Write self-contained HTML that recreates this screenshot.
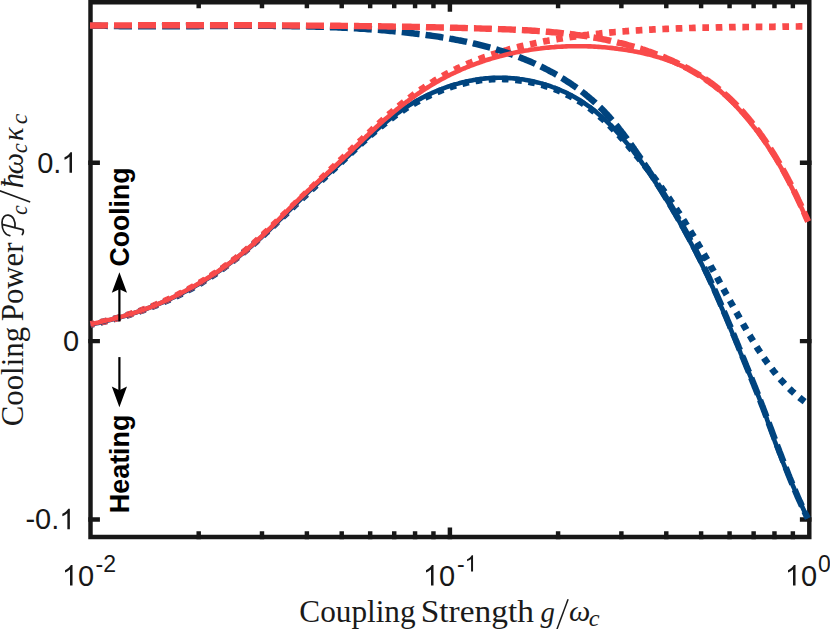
<!DOCTYPE html>
<html lang="en">
<head>
<meta charset="utf-8">
<title>Cooling power vs coupling strength</title>
<style>
  html, body { margin: 0; padding: 0; background: #ffffff; }
  body { width: 830px; height: 629px; overflow: hidden; }
  svg { display: block; }
  .tick { font-family: "Liberation Sans", sans-serif; fill: #171717; }
  .lab { font-family: "Liberation Serif", serif; fill: #1a1a1a; }
  .labi { font-family: "Liberation Serif", serif; font-style: italic; fill: #1a1a1a; }
  .ann { font-family: "Liberation Sans", sans-serif; font-weight: bold; fill: #000; }
  .curve { fill: none; stroke-linejoin: round; stroke-linecap: butt; }
</style>
</head>
<body>
<svg width="830" height="629" viewBox="0 0 830 629">
  <rect x="0" y="0" width="830" height="629" fill="#ffffff"/>

  <!-- axes box and ticks -->
  <g fill="none" stroke="#171717" stroke-width="4.45" stroke-linecap="square" stroke-linejoin="miter">
    <path d="M90.5 2.3H809.3V537.0H90.5Z"/>
    <path d="M198.69 537.0V533.40M198.69 2.3V5.90M261.98 537.0V533.40M261.98 2.3V5.90M306.88 537.0V533.40M306.88 2.3V5.90M341.71 537.0V533.40M341.71 2.3V5.90M370.17 537.0V533.40M370.17 2.3V5.90M394.23 537.0V533.40M394.23 2.3V5.90M415.07 537.0V533.40M415.07 2.3V5.90M433.45 537.0V533.40M433.45 2.3V5.90M449.90 537.0V529.80M449.90 2.3V9.50M558.09 537.0V533.40M558.09 2.3V5.90M621.38 537.0V533.40M621.38 2.3V5.90M666.28 537.0V533.40M666.28 2.3V5.90M701.11 537.0V533.40M701.11 2.3V5.90M729.57 537.0V533.40M729.57 2.3V5.90M753.63 537.0V533.40M753.63 2.3V5.90M774.47 537.0V533.40M774.47 2.3V5.90M792.85 537.0V533.40M792.85 2.3V5.90M90.5 162.77H97.70M809.3 162.77H802.10M90.5 341.10H97.70M809.3 341.10H802.10M90.5 519.43H97.70M809.3 519.43H802.10"/>
  </g>

  <!-- curves: dotted, dashed, solid (blue then red) -->
  <g class="curve">
    <path d="M90.5 324.6L92.5 324.2L94.4 323.8L96.4 323.4L98.3 322.9L100.3 322.5L102.2 322.0L104.2 321.6L106.1 321.1L108.1 320.6L110.0 320.1L111.9 319.6L113.9 319.1L115.8 318.6L117.7 318.1L119.7 317.5L121.6 317.0L123.5 316.4L125.4 315.9L127.4 315.3L129.3 314.7L131.2 314.1L133.1 313.5L135.0 312.9L136.9 312.2L138.8 311.6L140.7 310.9L142.6 310.3L144.4 309.6L146.3 308.9L148.2 308.2L150.1 307.5L151.9 306.8L153.8 306.1L155.7 305.4L157.5 304.6L159.4 303.9L161.2 303.1L163.1 302.3L164.9 301.5L166.7 300.7L168.5 299.9L170.4 299.1L172.2 298.3L174.0 297.4L175.8 296.6L177.6 295.7L179.4 294.8L181.2 293.9L183.0 293.0L184.7 292.1L186.5 291.2L188.3 290.2L190.0 289.3L191.8 288.3L193.5 287.3L195.3 286.3L197.0 285.3L198.8 284.3L200.5 283.3L202.2 282.3L203.9 281.2L205.6 280.2L207.3 279.1L209.0 278.0L210.7 276.9L212.4 275.8L214.0 274.7L215.7 273.6L217.4 272.4L219.0 271.3L220.6 270.1L222.3 269.0L223.9 267.8L225.5 266.6L227.2 265.4L228.8 264.2L230.4 263.0L232.0 261.8L233.6 260.6L235.1 259.3L236.7 258.1L238.3 256.9L239.9 255.6L241.4 254.3L243.0 253.1L244.5 251.8L246.0 250.5L247.6 249.2L249.1 247.9L250.6 246.6L252.1 245.3L253.6 244.0L255.1 242.7L256.6 241.4L258.1 240.0L259.6 238.7L261.0 237.4L262.5 236.0L264.0 234.7L265.4 233.3L266.9 232.0L268.4 230.6L269.8 229.3L271.3 227.9L272.7 226.5L274.2 225.2L275.6 223.8L277.1 222.4L278.5 221.1L280.0 219.7L281.4 218.3L282.8 216.9L284.3 215.6L285.7 214.2L287.2 212.8L288.6 211.4L290.1 210.0L291.5 208.6L292.9 207.3L294.4 205.9L295.8 204.5L297.3 203.1L298.8 201.7L300.2 200.4L301.7 199.0L303.1 197.6L304.6 196.2L306.1 194.9L307.5 193.5L309.0 192.1L310.5 190.7L311.9 189.4L313.4 188.0L314.9 186.6L316.3 185.3L317.8 183.9L319.3 182.5L320.8 181.2L322.2 179.8L323.7 178.5L325.2 177.1L326.7 175.7L328.1 174.4L329.6 173.0L331.1 171.7L332.5 170.3L334.0 169.0L335.5 167.6L336.9 166.3L338.4 164.9L339.9 163.5L341.3 162.2L342.8 160.8L344.3 159.5L345.7 158.1L347.2 156.7L348.6 155.4L350.1 154.0L351.6 152.6L353.0 151.3L354.5 149.9L356.0 148.6L357.4 147.2L358.9 145.8L360.4 144.5L361.8 143.1L363.3 141.8L364.8 140.5L366.3 139.1L367.8 137.8L369.3 136.5L370.8 135.1L372.3 133.8L373.8 132.5L375.3 131.2L376.8 129.9L378.4 128.7L379.9 127.4L381.5 126.1L383.0 124.9L384.6 123.6L386.2 122.4L387.7 121.2L389.3 119.9L390.9 118.7L392.6 117.6L394.2 116.4L395.8 115.2L397.5 114.1L399.1 112.9L400.8 111.8L402.5 110.7L404.1 109.6L405.8 108.5L407.5 107.5L409.3 106.4L411.0 105.4L412.7 104.3L414.5 103.3L416.2 102.3L418.0 101.4L419.7 100.4L421.5 99.5L423.3 98.6L425.1 97.6L426.9 96.8L428.7 95.9L430.5 95.0L432.3 94.2L434.2 93.4L436.0 92.6L437.8 91.8L439.7 91.1L441.5 90.3L443.4 89.6L445.3 88.9L447.2 88.3L449.0 87.6L450.9 87.0L452.8 86.4L454.7 85.8L456.6 85.2L458.6 84.7L460.5 84.1L462.4 83.7L464.3 83.2L466.3 82.7L468.2 82.3L470.2 81.9L472.1 81.5L474.1 81.2L476.0 80.9L478.0 80.6L480.0 80.3L482.0 80.0L483.9 79.8L485.9 79.6L487.9 79.4L489.9 79.3L491.9 79.2L493.9 79.1L495.9 79.0L497.9 79.0L499.9 79.0L501.9 79.0L503.9 79.1L505.9 79.1L507.9 79.2L509.9 79.4L511.9 79.5L513.9 79.7L515.9 79.9L517.9 80.1L519.9 80.4L521.9 80.6L523.9 80.9L525.9 81.3L527.8 81.6L529.8 82.0L531.8 82.4L533.7 82.8L535.7 83.3L537.7 83.8L539.6 84.3L541.5 84.8L543.5 85.4L545.4 86.0L547.3 86.6L549.2 87.2L551.1 87.9L553.0 88.5L554.9 89.2L556.8 90.0L558.6 90.7L560.5 91.5L562.3 92.3L564.1 93.1L565.9 94.0L567.7 94.9L569.5 95.8L571.3 96.7L573.1 97.6L574.8 98.6L576.5 99.6L578.2 100.6L579.9 101.7L581.6 102.7L583.3 103.8L584.9 104.9L586.6 106.0L588.2 107.2L589.8 108.4L591.4 109.6L593.0 110.8L594.5 112.0L596.1 113.3L597.6 114.6L599.1 115.9L600.6 117.2L602.1 118.5L603.6 119.8L605.1 121.2L606.5 122.5L608.0 123.9L609.4 125.3L610.8 126.7L612.2 128.2L613.6 129.6L615.0 131.0L616.4 132.5L617.8 134.0L619.2 135.4L620.5 136.9L621.9 138.4L623.2 139.9L624.5 141.4L625.9 142.9L627.2 144.4L628.5 146.0L629.8 147.5L631.1 149.0L632.4 150.5L633.7 152.1L635.0 153.6L636.3 155.2L637.6 156.7L638.8 158.3L640.1 159.8L641.4 161.4L642.6 162.9L643.9 164.5L645.1 166.1L646.3 167.6L647.6 169.2L648.8 170.8L650.0 172.4L651.2 173.9L652.5 175.5L653.7 177.1L654.9 178.7L656.1 180.3L657.3 181.9L658.4 183.5L659.6 185.1L660.8 186.7L662.0 188.3L663.1 190.0L664.3 191.6L665.4 193.2L666.6 194.8L667.7 196.5L668.9 198.1L670.0 199.7L671.1 201.4L672.3 203.0L673.4 204.7L674.5 206.3L675.6 208.0L676.7 209.6L677.8 211.3L678.9 212.9L680.0 214.6L681.1 216.3L682.1 218.0L683.2 219.6L684.3 221.3L685.3 223.0L686.4 224.7L687.4 226.4L688.5 228.1L689.5 229.8L690.6 231.5L691.6 233.2L692.6 234.9L693.7 236.6L694.7 238.3L695.7 240.0L696.7 241.7L697.7 243.4L698.7 245.2L699.7 246.9L700.8 248.6L701.8 250.3L702.7 252.1L703.7 253.8L704.7 255.5L705.7 257.3L706.7 259.0L707.7 260.7L708.7 262.5L709.7 264.2L710.6 266.0L711.6 267.7L712.6 269.4L713.6 271.2L714.5 272.9L715.5 274.7L716.5 276.4L717.5 278.2L718.4 279.9L719.4 281.7L720.4 283.4L721.3 285.2L722.3 286.9L723.3 288.7L724.2 290.4L725.2 292.2L726.2 294.0L727.2 295.7L728.1 297.5L729.1 299.2L730.1 301.0L731.0 302.7L732.0 304.5L733.0 306.2L734.0 308.0L735.0 309.7L735.9 311.5L736.9 313.2L737.9 315.0L738.9 316.7L739.9 318.5L740.9 320.2L741.9 322.0L742.9 323.7L743.9 325.5L744.9 327.2L745.9 328.9L746.9 330.7L747.9 332.4L748.9 334.2L750.0 335.9L751.0 337.6L752.0 339.3L753.1 341.1L754.1 342.8L755.2 344.5L756.2 346.2L757.3 347.9L758.4 349.6L759.5 351.2L760.6 352.9L761.7 354.6L762.8 356.3L763.9 357.9L765.0 359.5L766.2 361.2L767.3 362.8L768.5 364.4L769.7 366.0L770.9 367.6L772.1 369.2L773.3 370.7L774.5 372.3L775.8 373.8L777.0 375.4L778.3 376.9L779.6 378.4L780.9 379.9L782.2 381.3L783.6 382.8L784.9 384.2L786.3 385.6L787.7 387.0L789.1 388.4L790.5 389.8L792.0 391.2L793.5 392.5L794.9 393.8L796.5 395.1L798.0 396.4L799.5 397.6L801.1 398.9L802.7 400.1L804.3 401.3L805.9 402.5L807.6 403.6" stroke="#00447F" stroke-width="6.67" stroke-dasharray="6.67 6.67" stroke-dashoffset="3.2"/>
    <path d="M90.5 324.3L92.5 323.9L94.4 323.5L96.4 323.1L98.4 322.7L100.3 322.3L102.3 321.8L104.3 321.4L106.2 320.9L108.2 320.4L110.1 319.9L112.1 319.4L114.0 318.9L115.9 318.4L117.9 317.9L119.8 317.3L121.7 316.8L123.6 316.2L125.6 315.6L127.5 315.0L129.4 314.4L131.3 313.8L133.2 313.2L135.1 312.5L137.0 311.9L138.9 311.2L140.8 310.6L142.6 309.9L144.5 309.2L146.4 308.5L148.3 307.8L150.1 307.0L152.0 306.3L153.8 305.6L155.7 304.8L157.5 304.0L159.4 303.3L161.2 302.5L163.1 301.7L164.9 300.9L166.7 300.0L168.5 299.2L170.3 298.4L172.2 297.5L174.0 296.6L175.8 295.8L177.5 294.9L179.3 294.0L181.1 293.1L182.9 292.2L184.7 291.2L186.4 290.3L188.2 289.4L189.9 288.4L191.7 287.4L193.4 286.5L195.2 285.5L196.9 284.5L198.6 283.5L200.4 282.4L202.1 281.4L203.8 280.4L205.5 279.3L207.2 278.3L208.9 277.2L210.6 276.1L212.2 275.0L213.9 273.9L215.6 272.8L217.2 271.7L218.9 270.6L220.5 269.5L222.2 268.3L223.8 267.2L225.4 266.0L227.1 264.8L228.7 263.6L230.3 262.4L231.9 261.2L233.5 260.0L235.1 258.8L236.7 257.6L238.2 256.3L239.8 255.1L241.4 253.8L242.9 252.5L244.4 251.3L246.0 250.0L247.5 248.7L249.0 247.4L250.6 246.1L252.1 244.7L253.6 243.4L255.1 242.1L256.6 240.7L258.0 239.4L259.5 238.0L261.0 236.6L262.5 235.3L263.9 233.9L265.4 232.5L266.9 231.1L268.3 229.7L269.8 228.3L271.2 227.0L272.7 225.6L274.1 224.2L275.5 222.8L277.0 221.3L278.4 219.9L279.8 218.5L281.3 217.1L282.7 215.7L284.1 214.3L285.6 212.9L287.0 211.5L288.4 210.1L289.9 208.7L291.3 207.3L292.7 205.9L294.2 204.5L295.6 203.1L297.0 201.7L298.5 200.3L299.9 198.9L301.3 197.6L302.8 196.2L304.2 194.8L305.6 193.4L307.1 192.1L308.5 190.7L310.0 189.3L311.4 187.9L312.9 186.6L314.3 185.2L315.7 183.8L317.2 182.5L318.6 181.1L320.1 179.7L321.5 178.4L323.0 177.0L324.4 175.6L325.9 174.2L327.3 172.8L328.8 171.5L330.2 170.1L331.6 168.7L333.1 167.3L334.5 165.9L336.0 164.5L337.4 163.1L338.9 161.7L340.3 160.3L341.8 158.9L343.2 157.5L344.6 156.1L346.1 154.7L347.5 153.3L349.0 151.9L350.4 150.5L351.9 149.1L353.3 147.7L354.8 146.3L356.2 144.9L357.7 143.5L359.1 142.1L360.5 140.8L362.0 139.4L363.4 138.0L364.9 136.6L366.4 135.2L367.8 133.8L369.3 132.4L370.7 131.1L372.2 129.7L373.6 128.3L375.1 127.0L376.6 125.6L378.0 124.3L379.5 122.9L381.0 121.6L382.5 120.2L384.0 118.9L385.4 117.6L386.9 116.2L388.4 114.9L389.9 113.6L391.5 112.3L393.0 111.0L394.5 109.7L396.0 108.4L397.6 107.2L399.1 105.9L400.7 104.6L402.2 103.4L403.8 102.1L405.4 100.9L407.0 99.7L408.6 98.5L410.2 97.3L411.8 96.1L413.4 94.9L415.0 93.7L416.7 92.5L418.3 91.4L420.0 90.2L421.6 89.1L423.3 88.0L425.0 86.9L426.6 85.7L428.3 84.7L430.0 83.6L431.7 82.5L433.4 81.5L435.1 80.4L436.9 79.4L438.6 78.4L440.3 77.4L442.1 76.4L443.8 75.4L445.6 74.4L447.3 73.5L449.1 72.6L450.9 71.6L452.7 70.7L454.5 69.8L456.2 69.0L458.0 68.1L459.9 67.3L461.7 66.4L463.5 65.6L465.3 64.8L467.1 64.0L469.0 63.2L470.8 62.5L472.6 61.7L474.5 61.0L476.3 60.2L478.2 59.5L480.0 58.8L481.9 58.1L483.8 57.4L485.7 56.8L487.5 56.1L489.4 55.5L491.3 54.8L493.2 54.2L495.1 53.6L497.0 53.0L498.9 52.4L500.8 51.8L502.7 51.3L504.6 50.7L506.6 50.2L508.5 49.6L510.4 49.1L512.3 48.6L514.3 48.1L516.2 47.6L518.2 47.1L520.1 46.6L522.1 46.1L524.0 45.7L526.0 45.2L527.9 44.8L529.9 44.3L531.8 43.9L533.8 43.5L535.8 43.1L537.7 42.7L539.7 42.3L541.7 41.9L543.6 41.5L545.6 41.1L547.6 40.8L549.6 40.4L551.6 40.1L553.5 39.7L555.5 39.4L557.5 39.1L559.5 38.7L561.5 38.4L563.5 38.1L565.5 37.8L567.5 37.5L569.4 37.2L571.4 36.9L573.4 36.7L575.4 36.4L577.4 36.1L579.4 35.9L581.4 35.6L583.4 35.4L585.4 35.1L587.4 34.9L589.4 34.6L591.4 34.4L593.4 34.2L595.4 34.0L597.4 33.8L599.4 33.6L601.4 33.3L603.4 33.1L605.4 32.9L607.4 32.8L609.4 32.6L611.4 32.4L613.4 32.2L615.4 32.0L617.4 31.9L619.4 31.7L621.4 31.5L623.4 31.4L625.4 31.2L627.4 31.1L629.4 30.9L631.4 30.8L633.4 30.6L635.4 30.5L637.4 30.4L639.4 30.3L641.4 30.1L643.4 30.0L645.5 29.9L647.5 29.8L649.5 29.7L651.5 29.6L653.5 29.4L655.5 29.3L657.5 29.2L659.5 29.2L661.5 29.1L663.5 29.0L665.5 28.9L667.5 28.8L669.5 28.7L671.5 28.6L673.5 28.6L675.5 28.5L677.5 28.4L679.5 28.3L681.5 28.3L683.5 28.2L685.5 28.2L687.5 28.1L689.5 28.0L691.5 28.0L693.5 27.9L695.5 27.9L697.5 27.8L699.6 27.8L701.6 27.7L703.6 27.7L705.6 27.6L707.6 27.6L709.6 27.6L711.6 27.5L713.6 27.5L715.6 27.5L717.6 27.4L719.6 27.4L721.6 27.4L723.6 27.3L725.6 27.3L727.6 27.3L729.6 27.2L731.6 27.2L733.6 27.2L735.6 27.2L737.6 27.1L739.6 27.1L741.6 27.1L743.6 27.1L745.6 27.0L747.6 27.0L749.6 27.0L751.6 27.0L753.6 27.0L755.6 26.9L757.6 26.9L759.6 26.9L761.6 26.9L763.6 26.9L765.6 26.8L767.6 26.8L769.6 26.8L771.6 26.8L773.6 26.8L775.6 26.7L777.6 26.7L779.6 26.7L781.6 26.7L783.6 26.6L785.6 26.6L787.6 26.6L789.6 26.6L791.6 26.5L793.6 26.5L795.6 26.5L797.6 26.5L799.6 26.4L801.6 26.4L803.6 26.4L805.6 26.3L807.6 26.3" stroke="#F94A4A" stroke-width="6.67" stroke-dasharray="6.67 6.67" stroke-dashoffset="2.8"/>
    <path d="M90.0 25.5L92.0 25.6L94.0 25.7L96.0 25.7L98.0 25.8L100.0 25.8L102.0 25.9L104.1 25.9L106.1 25.9L108.1 26.0L110.1 26.0L112.1 26.0L114.1 26.1L116.1 26.1L118.1 26.1L120.1 26.2L122.1 26.2L124.1 26.2L126.1 26.2L128.1 26.3L130.1 26.3L132.2 26.3L134.2 26.3L136.2 26.3L138.2 26.3L140.2 26.3L142.2 26.3L144.2 26.3L146.2 26.4L148.2 26.4L150.2 26.4L152.2 26.4L154.2 26.4L156.2 26.4L158.2 26.4L160.2 26.4L162.2 26.3L164.2 26.3L166.2 26.3L168.2 26.3L170.2 26.3L172.3 26.3L174.3 26.3L176.3 26.3L178.3 26.3L180.3 26.3L182.3 26.3L184.3 26.3L186.3 26.2L188.3 26.2L190.3 26.2L192.3 26.2L194.3 26.2L196.3 26.2L198.3 26.2L200.3 26.1L202.3 26.1L204.3 26.1L206.3 26.1L208.3 26.1L210.3 26.1L212.3 26.1L214.3 26.1L216.3 26.0L218.3 26.0L220.3 26.0L222.3 26.0L224.3 26.0L226.3 26.0L228.3 26.0L230.3 26.0L232.3 25.9L234.3 25.9L236.3 25.9L238.3 25.9L240.4 25.9L242.4 25.9L244.4 25.9L246.4 25.9L248.4 25.9L250.4 25.9L252.4 25.9L254.4 25.9L256.4 25.9L258.4 25.9L260.4 25.9L262.4 25.9L264.4 25.9L266.4 25.9L268.4 25.9L270.4 25.9L272.4 25.9L274.4 26.0L276.4 26.0L278.4 26.0L280.4 26.0L282.4 26.0L284.4 26.1L286.4 26.1L288.4 26.1L290.4 26.1L292.4 26.2L294.4 26.2L296.4 26.2L298.4 26.3L300.4 26.3L302.4 26.3L304.4 26.4L306.4 26.4L308.4 26.5L310.4 26.5L312.4 26.6L314.4 26.6L316.4 26.7L318.4 26.7L320.4 26.8L322.4 26.9L324.4 26.9L326.4 27.0L328.4 27.1L330.4 27.2L332.4 27.2L334.4 27.3L336.4 27.4L338.4 27.5L340.4 27.6L342.4 27.7L344.4 27.8L346.4 27.9L348.4 28.0L350.4 28.1L352.4 28.2L354.4 28.3L356.4 28.4L358.4 28.5L360.4 28.7L362.4 28.8L364.3 28.9L366.3 29.0L368.3 29.2L370.3 29.3L372.3 29.5L374.3 29.6L376.3 29.8L378.3 29.9L380.3 30.1L382.3 30.3L384.3 30.4L386.3 30.6L388.3 30.8L390.3 31.0L392.3 31.1L394.3 31.3L396.3 31.5L398.3 31.7L400.3 31.9L402.3 32.1L404.3 32.3L406.3 32.6L408.3 32.8L410.3 33.0L412.3 33.2L414.3 33.5L416.3 33.7L418.3 34.0L420.3 34.2L422.3 34.5L424.3 34.7L426.3 35.0L428.3 35.3L430.3 35.5L432.3 35.8L434.3 36.1L436.3 36.4L438.2 36.7L440.2 37.0L442.2 37.4L444.2 37.7L446.2 38.0L448.2 38.3L450.2 38.7L452.1 39.0L454.1 39.4L456.1 39.8L458.1 40.2L460.0 40.5L462.0 40.9L464.0 41.3L465.9 41.7L467.9 42.2L469.9 42.6L471.8 43.0L473.8 43.5L475.7 43.9L477.7 44.4L479.6 44.9L481.6 45.4L483.5 45.9L485.4 46.4L487.4 46.9L489.3 47.4L491.2 47.9L493.1 48.5L495.1 49.0L497.0 49.6L498.9 50.2L500.8 50.8L502.7 51.4L504.6 52.0L506.5 52.6L508.4 53.2L510.3 53.9L512.1 54.5L514.0 55.2L515.9 55.9L517.8 56.6L519.6 57.3L521.5 58.0L523.3 58.8L525.2 59.5L527.0 60.3L528.8 61.0L530.7 61.8L532.5 62.6L534.3 63.4L536.1 64.3L537.9 65.1L539.8 65.9L541.6 66.8L543.3 67.7L545.1 68.6L546.9 69.5L548.7 70.4L550.4 71.4L552.2 72.3L554.0 73.3L555.7 74.3L557.4 75.3L559.2 76.3L560.9 77.4L562.6 78.4L564.3 79.5L566.0 80.6L567.7 81.7L569.4 82.8L571.1 83.9L572.8 85.1L574.5 86.2L576.1 87.4L577.8 88.6L579.4 89.8L581.0 91.0L582.7 92.3L584.3 93.5L585.9 94.8L587.4 96.1L589.0 97.4L590.5 98.7L592.1 100.0L593.6 101.3L595.1 102.7L596.6 104.1L598.1 105.4L599.5 106.8L601.0 108.2L602.4 109.6L603.8 111.0L605.2 112.5L606.6 113.9L607.9 115.4L609.2 116.8L610.5 118.3L611.8 119.8L613.1 121.3L614.4 122.8L615.6 124.3L616.9 125.8L618.1 127.3L619.3 128.9L620.5 130.4L621.7 132.0L622.9 133.5L624.1 135.1L625.3 136.7L626.5 138.2L627.6 139.8L628.8 141.4L629.9 143.0L631.1 144.6L632.2 146.2L633.4 147.8L634.5 149.5L635.6 151.1L636.7 152.7L637.8 154.4L639.0 156.0L640.1 157.6L641.2 159.3L642.3 160.9L643.4 162.6L644.5 164.2L645.6 165.9L646.7 167.6L647.8 169.2L648.9 170.9L650.0 172.6L651.1 174.2L652.2 175.9L653.2 177.6L654.3 179.3L655.4 181.0L656.5 182.7L657.5 184.4L658.6 186.0L659.7 187.7L660.8 189.4L661.8 191.1L662.9 192.9L663.9 194.6L665.0 196.3L666.0 198.0L667.1 199.7L668.1 201.4L669.2 203.2L670.2 204.9L671.2 206.6L672.3 208.3L673.3 210.1L674.3 211.8L675.3 213.5L676.3 215.3L677.3 217.0L678.3 218.8L679.3 220.5L680.3 222.3L681.3 224.0L682.3 225.8L683.3 227.5L684.3 229.3L685.3 231.1L686.2 232.8L687.2 234.6L688.2 236.4L689.1 238.1L690.1 239.9L691.0 241.7L692.0 243.5L692.9 245.2L693.8 247.0L694.8 248.8L695.7 250.6L696.6 252.4L697.5 254.2L698.4 256.0L699.3 257.8L700.2 259.5L701.1 261.3L702.0 263.1L702.9 264.9L703.7 266.7L704.6 268.5L705.5 270.4L706.3 272.2L707.2 274.0L708.0 275.8L708.9 277.6L709.7 279.4L710.6 281.2L711.4 283.0L712.2 284.9L713.0 286.7L713.9 288.5L714.7 290.3L715.5 292.1L716.3 294.0L717.1 295.8L717.9 297.6L718.7 299.5L719.5 301.3L720.3 303.1L721.1 305.0L721.9 306.8L722.7 308.6L723.5 310.5L724.2 312.3L725.0 314.1L725.8 316.0L726.6 317.8L727.3 319.7L728.1 321.5L728.9 323.4L729.7 325.2L730.4 327.1L731.2 328.9L732.0 330.8L732.7 332.6L733.5 334.5L734.3 336.3L735.0 338.2L735.8 340.0L736.5 341.9L737.3 343.7L738.1 345.6L738.8 347.4L739.6 349.3L740.3 351.2L741.1 353.0L741.9 354.9L742.6 356.7L743.4 358.6L744.2 360.5L744.9 362.3L745.7 364.2L746.4 366.0L747.2 367.9L748.0 369.8L748.7 371.6L749.5 373.5L750.2 375.4L751.0 377.2L751.7 379.1L752.5 381.0L753.2 382.8L754.0 384.7L754.7 386.6L755.5 388.4L756.2 390.3L757.0 392.2L757.7 394.0L758.4 395.9L759.2 397.8L759.9 399.6L760.6 401.5L761.3 403.4L762.0 405.2L762.8 407.1L763.5 409.0L764.2 410.9L764.9 412.7L765.6 414.6L766.3 416.5L767.0 418.3L767.7 420.2L768.4 422.1L769.1 423.9L769.8 425.8L770.5 427.7L771.2 429.5L771.9 431.4L772.6 433.3L773.3 435.1L774.0 437.0L774.7 438.9L775.4 440.7L776.1 442.6L776.8 444.5L777.5 446.3L778.2 448.2L778.9 450.0L779.6 451.9L780.4 453.8L781.1 455.6L781.8 457.5L782.5 459.4L783.2 461.2L783.9 463.1L784.7 464.9L785.4 466.8L786.1 468.6L786.9 470.5L787.6 472.3L788.3 474.2L789.1 476.1L789.8 477.9L790.6 479.8L791.3 481.6L792.1 483.5L792.9 485.3L793.7 487.2L794.4 489.0L795.2 490.8L796.0 492.7L796.8 494.5L797.6 496.4L798.4 498.2L799.2 500.1L800.1 501.9L800.9 503.7L801.7 505.6L802.6 507.4L803.4 509.2L804.3 511.1L805.1 512.9L806.0 514.7L806.9 516.6L807.8 518.4" stroke="#00447F" stroke-width="6.4" stroke-dasharray="18 6"/>
    <path d="M90.0 25.5L92.0 25.5L93.9 25.5L95.9 25.5L97.8 25.5L99.8 25.5L101.7 25.5L103.7 25.5L105.7 25.4L107.6 25.4L109.6 25.4L111.6 25.4L113.5 25.4L115.5 25.4L117.5 25.4L119.4 25.4L121.4 25.4L123.4 25.4L125.3 25.4L127.3 25.4L129.3 25.4L131.2 25.4L133.2 25.4L135.2 25.4L137.2 25.3L139.2 25.3L141.1 25.3L143.1 25.3L145.1 25.3L147.1 25.3L149.0 25.3L151.0 25.3L153.0 25.3L155.0 25.3L157.0 25.3L159.0 25.3L161.0 25.3L162.9 25.3L164.9 25.3L166.9 25.3L168.9 25.3L170.9 25.3L172.9 25.3L174.9 25.3L176.9 25.3L178.9 25.3L180.8 25.3L182.8 25.3L184.8 25.3L186.8 25.2L188.8 25.2L190.8 25.2L192.8 25.2L194.8 25.2L196.8 25.2L198.8 25.2L200.8 25.2L202.8 25.2L204.8 25.2L206.8 25.2L208.8 25.2L210.8 25.2L212.8 25.2L214.8 25.2L216.8 25.2L218.8 25.2L220.8 25.2L222.8 25.2L224.8 25.2L226.8 25.2L228.9 25.2L230.9 25.3L232.9 25.3L234.9 25.3L236.9 25.3L238.9 25.3L240.9 25.3L242.9 25.3L244.9 25.3L246.9 25.3L248.9 25.3L251.0 25.3L253.0 25.3L255.0 25.3L257.0 25.3L259.0 25.3L261.0 25.3L263.0 25.3L265.0 25.3L267.1 25.3L269.1 25.3L271.1 25.4L273.1 25.4L275.1 25.4L277.1 25.4L279.1 25.4L281.2 25.4L283.2 25.4L285.2 25.4L287.2 25.4L289.2 25.4L291.2 25.5L293.3 25.5L295.3 25.5L297.3 25.5L299.3 25.5L301.3 25.5L303.4 25.5L305.4 25.5L307.4 25.6L309.4 25.6L311.4 25.6L313.4 25.6L315.5 25.6L317.5 25.6L319.5 25.6L321.5 25.7L323.5 25.7L325.6 25.7L327.6 25.7L329.6 25.7L331.6 25.8L333.6 25.8L335.7 25.8L337.7 25.8L339.7 25.8L341.7 25.9L343.7 25.9L345.8 25.9L347.8 25.9L349.8 25.9L351.8 26.0L353.8 26.0L355.9 26.0L357.9 26.0L359.9 26.1L361.9 26.1L363.9 26.1L366.0 26.1L368.0 26.2L370.0 26.2L372.0 26.2L374.0 26.2L376.1 26.3L378.1 26.3L380.1 26.3L382.1 26.4L384.1 26.4L386.2 26.4L388.2 26.5L390.2 26.5L392.2 26.5L394.2 26.6L396.2 26.6L398.3 26.6L400.3 26.7L402.3 26.7L404.3 26.7L406.3 26.8L408.3 26.8L410.4 26.8L412.4 26.9L414.4 26.9L416.4 26.9L418.4 27.0L420.4 27.0L422.5 27.1L424.5 27.1L426.5 27.2L428.5 27.2L430.5 27.2L432.5 27.3L434.5 27.3L436.5 27.4L438.6 27.4L440.6 27.5L442.6 27.5L444.6 27.5L446.6 27.6L448.6 27.6L450.6 27.7L452.6 27.7L454.6 27.8L456.6 27.8L458.6 27.9L460.7 27.9L462.7 28.0L464.7 28.0L466.7 28.1L468.7 28.2L470.7 28.2L472.7 28.3L474.7 28.3L476.7 28.4L478.7 28.4L480.7 28.5L482.7 28.6L484.7 28.6L486.7 28.7L488.7 28.7L490.7 28.8L492.7 28.9L494.7 28.9L496.7 29.0L498.7 29.1L500.7 29.1L502.7 29.2L504.7 29.3L506.7 29.4L508.7 29.4L510.7 29.5L512.6 29.6L514.6 29.7L516.6 29.8L518.6 29.9L520.6 30.0L522.6 30.1L524.6 30.2L526.6 30.3L528.6 30.4L530.5 30.5L532.5 30.7L534.5 30.8L536.5 30.9L538.5 31.1L540.5 31.2L542.4 31.4L544.4 31.5L546.4 31.7L548.4 31.8L550.4 32.0L552.3 32.2L554.3 32.4L556.3 32.5L558.3 32.7L560.2 32.9L562.2 33.1L564.2 33.4L566.1 33.6L568.1 33.8L570.1 34.0L572.0 34.3L574.0 34.5L576.0 34.8L577.9 35.1L579.9 35.3L581.9 35.6L583.8 35.9L585.8 36.2L587.8 36.5L589.7 36.8L591.7 37.2L593.6 37.5L595.6 37.8L597.5 38.2L599.5 38.6L601.4 38.9L603.4 39.3L605.4 39.7L607.3 40.1L609.2 40.5L611.2 41.0L613.1 41.4L615.1 41.8L617.0 42.3L619.0 42.8L620.9 43.2L622.9 43.7L624.8 44.2L626.7 44.7L628.7 45.3L630.6 45.8L632.5 46.3L634.5 46.9L636.4 47.5L638.3 48.1L640.2 48.6L642.1 49.3L644.1 49.9L646.0 50.5L647.9 51.2L649.8 51.8L651.7 52.5L653.6 53.2L655.4 53.9L657.3 54.6L659.2 55.3L661.1 56.0L662.9 56.8L664.8 57.5L666.6 58.3L668.5 59.1L670.3 59.9L672.1 60.7L674.0 61.6L675.8 62.4L677.6 63.3L679.4 64.1L681.2 65.0L683.0 65.9L684.7 66.9L686.5 67.8L688.3 68.7L690.0 69.7L691.7 70.7L693.5 71.7L695.2 72.7L696.9 73.7L698.6 74.7L700.3 75.8L702.0 76.9L703.6 78.0L705.3 79.1L706.9 80.2L708.6 81.3L710.2 82.5L711.8 83.6L713.4 84.8L715.0 86.0L716.5 87.2L718.1 88.5L719.7 89.7L721.2 91.0L722.7 92.3L724.2 93.6L725.7 94.9L727.2 96.2L728.7 97.6L730.1 98.9L731.6 100.3L733.0 101.7L734.4 103.1L735.8 104.5L737.2 105.9L738.6 107.4L739.9 108.9L741.3 110.3L742.6 111.8L744.0 113.3L745.3 114.8L746.6 116.3L747.9 117.9L749.2 119.4L750.5 121.0L751.7 122.6L753.0 124.1L754.2 125.7L755.4 127.3L756.6 128.9L757.9 130.5L759.1 132.2L760.2 133.8L761.4 135.4L762.6 137.1L763.7 138.7L764.9 140.4L766.0 142.1L767.1 143.7L768.2 145.4L769.3 147.1L770.4 148.8L771.5 150.5L772.6 152.2L773.7 153.9L774.7 155.6L775.8 157.4L776.8 159.1L777.8 160.8L778.9 162.6L779.9 164.3L780.9 166.0L781.9 167.8L782.8 169.5L783.8 171.3L784.8 173.1L785.7 174.8L786.7 176.6L787.6 178.4L788.6 180.2L789.5 181.9L790.4 183.7L791.3 185.5L792.2 187.3L793.1 189.1L794.0 190.9L794.9 192.7L795.8 194.5L796.6 196.3L797.5 198.1L798.3 199.9L799.2 201.7L800.0 203.5L800.9 205.3L801.7 207.1L802.5 208.9L803.3 210.7L804.1 212.5L804.9 214.3L805.7 216.1L806.5 217.9L807.3 219.7L808.1 221.5" stroke="#F94A4A" stroke-width="6.4" stroke-dasharray="18 6"/>
    <path d="M90.5 324.5L92.5 324.1L94.4 323.7L96.4 323.3L98.3 322.9L100.3 322.4L102.2 322.0L104.2 321.5L106.1 321.0L108.0 320.6L110.0 320.1L111.9 319.6L113.9 319.1L115.8 318.6L117.7 318.0L119.7 317.5L121.6 316.9L123.5 316.4L125.4 315.8L127.4 315.2L129.3 314.6L131.2 314.0L133.1 313.4L135.0 312.8L136.9 312.2L138.8 311.5L140.7 310.8L142.6 310.2L144.5 309.5L146.4 308.8L148.2 308.1L150.1 307.4L152.0 306.7L153.9 305.9L155.7 305.2L157.6 304.4L159.4 303.7L161.3 302.9L163.1 302.1L165.0 301.3L166.8 300.5L168.6 299.7L170.4 298.9L172.3 298.0L174.1 297.2L175.9 296.3L177.7 295.4L179.5 294.5L181.3 293.6L183.0 292.7L184.8 291.8L186.6 290.9L188.4 289.9L190.1 289.0L191.9 288.0L193.6 287.0L195.3 286.0L197.1 285.0L198.8 284.0L200.5 283.0L202.2 282.0L203.9 280.9L205.6 279.9L207.3 278.8L209.0 277.7L210.7 276.7L212.4 275.6L214.0 274.5L215.7 273.3L217.3 272.2L219.0 271.1L220.6 270.0L222.3 268.8L223.9 267.6L225.5 266.5L227.1 265.3L228.7 264.1L230.4 262.9L232.0 261.7L233.5 260.5L235.1 259.3L236.7 258.1L238.3 256.8L239.9 255.6L241.4 254.3L243.0 253.1L244.5 251.8L246.1 250.5L247.6 249.2L249.2 248.0L250.7 246.7L252.2 245.4L253.7 244.0L255.3 242.7L256.8 241.4L258.3 240.1L259.8 238.7L261.3 237.4L262.7 236.0L264.2 234.7L265.7 233.3L267.2 231.9L268.6 230.6L270.1 229.2L271.5 227.8L273.0 226.4L274.4 225.0L275.9 223.6L277.3 222.2L278.7 220.8L280.2 219.4L281.6 218.0L283.0 216.6L284.4 215.2L285.9 213.7L287.3 212.3L288.7 210.9L290.1 209.5L291.5 208.1L293.0 206.7L294.4 205.3L295.8 203.9L297.2 202.5L298.6 201.2L300.1 199.8L301.5 198.4L302.9 197.0L304.4 195.7L305.8 194.3L307.2 192.9L308.7 191.6L310.1 190.2L311.6 188.9L313.1 187.5L314.5 186.2L316.0 184.8L317.5 183.5L319.0 182.1L320.5 180.8L322.0 179.4L323.5 178.1L325.0 176.8L326.5 175.4L328.1 174.1L329.6 172.7L331.1 171.4L332.6 170.0L334.1 168.7L335.7 167.3L337.2 166.0L338.7 164.6L340.2 163.3L341.6 162.0L343.1 160.6L344.6 159.3L346.0 157.9L347.5 156.6L349.0 155.2L350.4 153.8L351.8 152.5L353.3 151.1L354.7 149.8L356.2 148.4L357.6 147.1L359.1 145.7L360.5 144.3L362.0 143.0L363.5 141.6L364.9 140.3L366.4 138.9L367.9 137.6L369.4 136.2L370.9 134.9L372.4 133.5L373.9 132.2L375.4 130.9L376.9 129.6L378.4 128.3L379.9 127.0L381.5 125.7L383.0 124.4L384.5 123.2L386.1 121.9L387.6 120.7L389.2 119.4L390.8 118.2L392.4 117.0L394.0 115.8L395.6 114.6L397.2 113.4L398.8 112.3L400.4 111.1L402.1 110.0L403.7 108.9L405.4 107.8L407.0 106.7L408.7 105.6L410.4 104.6L412.1 103.5L413.8 102.5L415.5 101.5L417.2 100.5L419.0 99.5L420.7 98.6L422.5 97.6L424.3 96.7L426.1 95.8L427.9 94.9L429.7 94.1L431.5 93.2L433.4 92.4L435.2 91.6L437.1 90.8L438.9 90.0L440.8 89.3L442.7 88.6L444.6 87.9L446.5 87.2L448.4 86.5L450.3 85.9L452.2 85.3L454.1 84.7L456.1 84.1L458.0 83.6L459.9 83.0L461.9 82.5L463.9 82.1L465.8 81.6L467.8 81.2L469.8 80.8L471.7 80.4L473.7 80.0L475.7 79.7L477.7 79.4L479.7 79.1L481.7 78.9L483.7 78.6L485.7 78.4L487.7 78.3L489.7 78.1L491.7 78.0L493.7 77.9L495.7 77.9L497.7 77.8L499.7 77.8L501.7 77.8L503.8 77.8L505.8 77.9L507.8 78.0L509.8 78.1L511.8 78.2L513.8 78.4L515.8 78.6L517.8 78.8L519.8 79.1L521.7 79.3L523.7 79.6L525.7 79.9L527.7 80.3L529.6 80.7L531.6 81.1L533.6 81.5L535.5 81.9L537.5 82.4L539.4 82.9L541.3 83.4L543.2 84.0L545.2 84.5L547.1 85.1L549.0 85.7L550.8 86.4L552.7 87.1L554.6 87.7L556.4 88.5L558.3 89.2L560.1 90.0L561.9 90.8L563.8 91.6L565.6 92.4L567.4 93.3L569.1 94.2L570.9 95.1L572.6 96.0L574.4 97.0L576.1 98.0L577.8 99.0L579.5 100.0L581.2 101.1L582.8 102.2L584.5 103.3L586.1 104.4L587.8 105.6L589.4 106.7L591.0 107.9L592.5 109.2L594.1 110.4L595.7 111.6L597.2 112.9L598.7 114.2L600.2 115.5L601.7 116.8L603.2 118.2L604.7 119.5L606.2 120.9L607.6 122.3L609.1 123.7L610.5 125.1L611.9 126.5L613.3 128.0L614.7 129.4L616.1 130.9L617.4 132.4L618.8 133.9L620.2 135.4L621.5 136.9L622.8 138.4L624.1 140.0L625.4 141.5L626.7 143.1L628.0 144.6L629.3 146.2L630.6 147.7L631.8 149.3L633.1 150.9L634.3 152.5L635.5 154.1L636.8 155.7L638.0 157.3L639.2 158.9L640.4 160.5L641.5 162.1L642.7 163.8L643.9 165.4L645.1 167.0L646.2 168.7L647.4 170.3L648.5 171.9L649.6 173.6L650.8 175.2L651.9 176.9L653.0 178.6L654.1 180.2L655.2 181.9L656.3 183.6L657.4 185.2L658.4 186.9L659.5 188.6L660.6 190.3L661.7 192.0L662.7 193.7L663.8 195.4L664.8 197.1L665.8 198.8L666.9 200.5L667.9 202.2L668.9 203.9L670.0 205.6L671.0 207.3L672.0 209.1L673.0 210.8L674.0 212.5L675.0 214.2L676.0 216.0L677.0 217.7L678.0 219.4L679.0 221.2L680.0 222.9L680.9 224.7L681.9 226.4L682.9 228.2L683.9 229.9L684.8 231.7L685.8 233.4L686.7 235.2L687.7 237.0L688.6 238.7L689.6 240.5L690.5 242.3L691.4 244.0L692.4 245.8L693.3 247.6L694.2 249.3L695.1 251.1L696.1 252.9L697.0 254.7L697.9 256.5L698.8 258.3L699.7 260.1L700.6 261.8L701.4 263.6L702.3 265.4L703.2 267.2L704.1 269.0L704.9 270.8L705.8 272.6L706.7 274.4L707.5 276.2L708.4 278.0L709.2 279.9L710.1 281.7L710.9 283.5L711.7 285.3L712.6 287.1L713.4 288.9L714.2 290.7L715.0 292.6L715.9 294.4L716.7 296.2L717.5 298.0L718.3 299.9L719.1 301.7L719.9 303.5L720.7 305.4L721.4 307.2L722.2 309.0L723.0 310.9L723.8 312.7L724.6 314.5L725.3 316.4L726.1 318.2L726.9 320.0L727.7 321.9L728.4 323.7L729.2 325.6L730.0 327.4L730.7 329.3L731.5 331.1L732.3 333.0L733.0 334.8L733.8 336.7L734.6 338.5L735.3 340.4L736.1 342.2L736.9 344.1L737.7 345.9L738.4 347.8L739.2 349.6L740.0 351.5L740.7 353.3L741.5 355.2L742.3 357.1L743.1 358.9L743.9 360.8L744.6 362.6L745.4 364.5L746.2 366.4L747.0 368.2L747.8 370.1L748.5 372.0L749.3 373.8L750.1 375.7L750.9 377.5L751.7 379.4L752.4 381.3L753.2 383.1L754.0 385.0L754.7 386.9L755.5 388.7L756.2 390.6L757.0 392.5L757.7 394.3L758.4 396.2L759.2 398.1L759.9 399.9L760.6 401.8L761.3 403.7L762.0 405.5L762.7 407.4L763.4 409.3L764.1 411.1L764.8 413.0L765.4 414.9L766.1 416.7L766.8 418.6L767.4 420.5L768.1 422.3L768.8 424.2L769.4 426.1L770.1 427.9L770.7 429.8L771.4 431.7L772.1 433.5L772.7 435.4L773.4 437.3L774.1 439.1L774.7 441.0L775.4 442.9L776.1 444.7L776.8 446.6L777.5 448.4L778.2 450.3L778.9 452.2L779.7 454.0L780.4 455.9L781.1 457.7L781.9 459.6L782.6 461.4L783.4 463.3L784.1 465.2L784.9 467.0L785.7 468.9L786.5 470.7L787.2 472.6L788.0 474.4L788.8 476.3L789.6 478.1L790.4 480.0L791.2 481.8L792.0 483.7L792.8 485.5L793.6 487.3L794.4 489.2L795.3 491.0L796.1 492.9L796.9 494.7L797.7 496.5L798.5 498.4L799.3 500.2L800.2 502.1L801.0 503.9L801.8 505.7L802.6 507.5L803.4 509.4L804.3 511.2L805.1 513.0L805.9 514.9L806.7 516.7L807.5 518.5" stroke="#00447F" stroke-width="4.6"/>
    <path d="M90.5 324.3L92.5 323.9L94.4 323.4L96.4 322.9L98.3 322.5L100.3 322.0L102.2 321.6L104.2 321.1L106.1 320.6L108.1 320.1L110.0 319.7L112.0 319.2L113.9 318.7L115.8 318.2L117.8 317.6L119.7 317.1L121.6 316.6L123.5 316.1L125.4 315.5L127.4 314.9L129.3 314.4L131.2 313.8L133.1 313.2L135.0 312.6L136.9 312.0L138.8 311.3L140.7 310.7L142.6 310.0L144.4 309.4L146.3 308.7L148.2 308.0L150.1 307.3L151.9 306.5L153.8 305.8L155.7 305.0L157.5 304.2L159.4 303.5L161.2 302.7L163.0 301.8L164.9 301.0L166.7 300.2L168.5 299.3L170.4 298.5L172.2 297.6L174.0 296.7L175.8 295.8L177.6 294.9L179.4 294.0L181.2 293.1L183.0 292.1L184.7 291.2L186.5 290.2L188.3 289.3L190.0 288.3L191.8 287.4L193.5 286.4L195.3 285.4L197.0 284.4L198.7 283.4L200.5 282.4L202.2 281.4L203.9 280.3L205.6 279.3L207.3 278.3L209.0 277.2L210.7 276.1L212.3 275.1L214.0 274.0L215.7 272.9L217.3 271.8L219.0 270.6L220.6 269.5L222.3 268.4L223.9 267.2L225.5 266.1L227.1 264.9L228.7 263.7L230.4 262.6L231.9 261.4L233.5 260.2L235.1 258.9L236.7 257.7L238.3 256.5L239.8 255.3L241.4 254.0L242.9 252.7L244.5 251.5L246.0 250.2L247.6 248.9L249.1 247.6L250.6 246.3L252.1 245.0L253.6 243.7L255.1 242.4L256.6 241.0L258.1 239.7L259.6 238.3L261.0 237.0L262.5 235.6L264.0 234.2L265.4 232.8L266.9 231.4L268.3 230.0L269.7 228.6L271.2 227.2L272.6 225.8L274.0 224.4L275.4 222.9L276.8 221.5L278.2 220.1L279.7 218.6L281.1 217.2L282.5 215.8L283.9 214.3L285.3 212.9L286.7 211.5L288.1 210.0L289.5 208.6L290.9 207.2L292.4 205.8L293.8 204.3L295.2 202.9L296.6 201.5L298.1 200.1L299.5 198.7L301.0 197.3L302.4 196.0L303.9 194.6L305.3 193.2L306.8 191.9L308.2 190.5L309.7 189.2L311.2 187.8L312.7 186.5L314.1 185.1L315.6 183.8L317.1 182.5L318.6 181.1L320.1 179.8L321.6 178.5L323.0 177.1L324.5 175.8L326.0 174.5L327.5 173.1L329.0 171.8L330.5 170.4L331.9 169.1L333.4 167.7L334.9 166.4L336.3 165.0L337.8 163.6L339.3 162.2L340.7 160.9L342.2 159.5L343.7 158.1L345.1 156.7L346.6 155.4L348.0 154.0L349.5 152.6L350.9 151.2L352.4 149.8L353.8 148.4L355.3 147.0L356.7 145.7L358.2 144.3L359.6 142.9L361.1 141.5L362.5 140.1L363.9 138.7L365.4 137.4L366.8 136.0L368.3 134.6L369.7 133.2L371.2 131.9L372.6 130.5L374.1 129.2L375.6 127.8L377.0 126.5L378.5 125.1L380.0 123.8L381.5 122.4L383.0 121.1L384.5 119.8L386.0 118.5L387.6 117.2L389.1 115.9L390.6 114.6L392.2 113.3L393.7 112.0L395.3 110.7L396.9 109.4L398.4 108.2L400.0 106.9L401.6 105.7L403.2 104.5L404.8 103.2L406.4 102.0L408.1 100.8L409.7 99.6L411.3 98.4L413.0 97.3L414.6 96.1L416.3 94.9L417.9 93.8L419.6 92.7L421.3 91.5L423.0 90.4L424.6 89.3L426.3 88.3L428.0 87.2L429.8 86.1L431.5 85.1L433.2 84.1L434.9 83.0L436.6 82.0L438.4 81.1L440.1 80.1L441.9 79.1L443.6 78.2L445.4 77.2L447.2 76.3L448.9 75.4L450.7 74.5L452.5 73.7L454.3 72.8L456.1 72.0L457.9 71.1L459.7 70.3L461.5 69.5L463.4 68.7L465.2 68.0L467.0 67.2L468.9 66.5L470.7 65.7L472.5 65.0L474.4 64.3L476.3 63.6L478.1 63.0L480.0 62.3L481.9 61.7L483.7 61.0L485.6 60.4L487.5 59.8L489.4 59.2L491.3 58.6L493.2 58.1L495.1 57.5L497.0 57.0L498.9 56.5L500.9 55.9L502.8 55.5L504.7 55.0L506.6 54.5L508.6 54.0L510.5 53.6L512.5 53.2L514.4 52.7L516.4 52.3L518.3 51.9L520.3 51.6L522.3 51.2L524.2 50.8L526.2 50.5L528.2 50.2L530.2 49.8L532.1 49.5L534.1 49.3L536.1 49.0L538.1 48.7L540.1 48.5L542.1 48.2L544.1 48.0L546.1 47.8L548.1 47.6L550.1 47.4L552.1 47.2L554.1 47.1L556.1 46.9L558.1 46.8L560.1 46.7L562.2 46.6L564.2 46.5L566.2 46.4L568.2 46.3L570.2 46.3L572.2 46.2L574.3 46.2L576.3 46.2L578.3 46.2L580.3 46.2L582.3 46.2L584.4 46.3L586.4 46.3L588.4 46.4L590.4 46.4L592.4 46.5L594.5 46.6L596.5 46.8L598.5 46.9L600.5 47.0L602.5 47.2L604.5 47.3L606.6 47.5L608.6 47.7L610.6 47.9L612.6 48.1L614.6 48.4L616.6 48.6L618.6 48.9L620.6 49.2L622.6 49.4L624.6 49.7L626.6 50.1L628.6 50.4L630.6 50.7L632.5 51.1L634.5 51.4L636.5 51.8L638.5 52.2L640.4 52.6L642.4 53.1L644.4 53.5L646.3 54.0L648.3 54.4L650.2 54.9L652.1 55.4L654.1 56.0L656.0 56.5L657.9 57.1L659.8 57.6L661.7 58.2L663.6 58.9L665.5 59.5L667.4 60.2L669.2 60.8L671.1 61.5L673.0 62.2L674.8 63.0L676.6 63.7L678.5 64.5L680.3 65.3L682.1 66.1L683.9 67.0L685.6 67.8L687.4 68.7L689.2 69.6L690.9 70.6L692.7 71.5L694.4 72.5L696.1 73.5L697.8 74.5L699.5 75.6L701.2 76.6L702.8 77.7L704.5 78.8L706.1 80.0L707.7 81.1L709.3 82.3L710.9 83.5L712.5 84.7L714.1 86.0L715.7 87.2L717.2 88.5L718.8 89.8L720.3 91.1L721.8 92.4L723.3 93.7L724.8 95.1L726.3 96.5L727.7 97.8L729.2 99.2L730.6 100.7L732.1 102.1L733.5 103.5L734.9 105.0L736.3 106.4L737.7 107.9L739.0 109.4L740.4 110.9L741.7 112.4L743.1 113.9L744.4 115.5L745.7 117.0L747.0 118.5L748.3 120.1L749.6 121.6L750.8 123.2L752.1 124.8L753.3 126.4L754.6 127.9L755.8 129.5L757.0 131.1L758.2 132.7L759.4 134.4L760.6 136.0L761.7 137.6L762.9 139.2L764.0 140.9L765.2 142.5L766.3 144.1L767.4 145.8L768.5 147.5L769.6 149.1L770.7 150.8L771.8 152.5L772.9 154.2L773.9 155.8L775.0 157.5L776.0 159.2L777.0 160.9L778.1 162.6L779.1 164.4L780.1 166.1L781.1 167.8L782.1 169.5L783.0 171.3L784.0 173.0L785.0 174.8L785.9 176.5L786.9 178.3L787.8 180.0L788.8 181.8L789.7 183.6L790.6 185.3L791.5 187.1L792.4 188.9L793.3 190.7L794.2 192.5L795.1 194.3L796.0 196.1L796.9 197.9L797.7 199.7L798.6 201.5L799.4 203.3L800.3 205.1L801.1 207.0L802.0 208.8L802.8 210.6L803.6 212.5L804.5 214.3L805.3 216.1L806.1 218.0L806.9 219.8L807.7 221.7" stroke="#F94A4A" stroke-width="4.6"/>
  </g>

  <!-- annotations: arrows + rotated bold labels -->
  <g fill="#000" stroke="none">
    <rect x="118.3" y="289" width="2.2" height="32.5"/>
    <path d="M119.4 272.2L127 292.8L119.4 289.2L111.8 292.8Z"/>
    <rect x="118.3" y="357.1" width="2.2" height="33.5"/>
    <path d="M119.4 407.2L127 386.4L119.4 390.2L111.8 386.4Z"/>
  </g>
  <g transform="translate(128.6 0) rotate(-90)">
    <text class="ann" font-size="26.7" transform="translate(-266.46 0.00) scale(0.9956 1.0350)">Cooling</text>
    <text class="ann" font-size="26.7" transform="translate(-513.23 0.00) scale(1.0089 1.0350)">Heating</text>
  </g>

  <!-- tick labels -->
  <text class="tick" font-size="29.0" x="37.20" y="172.70">0</text><text class="tick" font-size="29.0" x="53.32" y="172.70">.</text><path d="M72.01 172.70L69.50 172.70L69.50 156.74Q68.59 157.60 67.13 158.46Q65.66 159.33 64.49 159.76L64.49 157.34Q66.59 156.35 68.16 154.94Q69.74 153.54 70.39 152.21L72.01 152.21Z" fill="#171717"/>
  <text class="tick" font-size="29.0" x="62.90" y="351.00">0</text>
  <text class="tick" font-size="29.0" x="25.40" y="529.20">-</text><text class="tick" font-size="29.0" x="35.06" y="529.20">0</text><text class="tick" font-size="29.0" x="51.18" y="529.20">.</text><path d="M69.86 529.20L67.36 529.20L67.36 513.24Q66.45 514.10 64.98 514.96Q63.52 515.83 62.35 516.26L62.35 513.84Q64.45 512.85 66.02 511.44Q67.59 510.04 68.25 508.71L69.86 508.71Z" fill="#171717"/>
  <path d="M72.52 585.50L70.01 585.50L70.01 569.54Q69.11 570.40 67.64 571.26Q66.17 572.13 65.00 572.56L65.00 570.14Q67.10 569.15 68.68 567.74Q70.25 566.34 70.90 565.01L72.52 565.01Z" fill="#171717"/><text class="tick" font-size="29.0" x="78.02" y="585.50">0</text><text class="tick" font-size="23.0" x="95.50" y="571.50">-</text><text class="tick" font-size="23.0" x="103.16" y="571.50">2</text>
  <path d="M433.52 585.50L431.01 585.50L431.01 569.54Q430.11 570.40 428.64 571.26Q427.17 572.13 426.00 572.56L426.00 570.14Q428.10 569.15 429.68 567.74Q431.25 566.34 431.90 565.01L433.52 565.01Z" fill="#171717"/><text class="tick" font-size="29.0" x="439.02" y="585.50">0</text><text class="tick" font-size="23.0" x="457.00" y="571.50">-</text><path d="M473.04 571.50L471.06 571.50L471.06 558.90Q470.35 559.58 469.19 560.26Q468.03 560.94 467.11 561.28L467.11 559.37Q468.77 558.59 470.01 557.48Q471.25 556.37 471.77 555.33L473.04 555.33Z" fill="#171717"/>
  <path d="M795.52 585.50L793.01 585.50L793.01 569.54Q792.11 570.40 790.64 571.26Q789.17 572.13 788.00 572.56L788.00 570.14Q790.10 569.15 791.68 567.74Q793.25 566.34 793.90 565.01L795.52 565.01Z" fill="#171717"/><text class="tick" font-size="29.0" x="801.02" y="585.50">0</text><text class="tick" font-size="23.0" x="818.10" y="571.50">0</text>

  <!-- x label -->
  <text class="lab" font-size="32.0" transform="translate(299.35 621.70) scale(0.9762 1.0000)">Coupling</text>
  <text class="lab" font-size="32.0" transform="translate(420.73 621.70) scale(1.0442 1.0000)">Strength</text>
  <text class="labi" font-size="32.0" transform="translate(540.50 621.50) scale(0.8976 0.9300)">g</text>
  <path d="M556.6 630.2L568.1 599.2" stroke="#1a1a1a" stroke-width="1.5" fill="none"/>
  <text class="labi" font-size="32.0" transform="translate(569.03 621.40) scale(0.9425 0.9300)">ω</text>
  <text class="labi" font-size="22.5" transform="translate(588.87 625.90) scale(1.0835 1.0000)">c</text>

  <!-- y label -->
  <g transform="translate(23.2 0) rotate(-90)">
    <text class="lab" font-size="32.0" transform="translate(-426.33 0.00) scale(0.9646 1.0000)">Cooling</text>
    <text class="lab" font-size="32.0" transform="translate(-321.22 0.00) scale(0.9631 1.0000)">Power</text>
    <path d="M-229.6 -0.3C-228.2 -6 -226.4 -13.5 -224.6 -20.2M-234.6 -0.9C-232.6 0.3 -230.6 0.3 -229.6 -0.3M-235.6 -13.4C-234.8 -18.6 -229.4 -21.2 -222.8 -21.2C-217.6 -21.2 -214.9 -18.4 -215.2 -14.9C-215.7 -10.2 -220.6 -7.6 -227.6 -8.2" stroke="#1a1a1a" stroke-width="1.7" fill="none" stroke-linecap="round"/>
    <text class="labi" font-size="22.5" transform="translate(-215.06 4.00) scale(0.9840 1.0000)">c</text>
    <path d="M-202.0 7.0L-190.8 -23.4" stroke="#1a1a1a" stroke-width="1.5" fill="none"/>
    <text class="labi" font-size="32.0" transform="translate(-188.17 -0.40) scale(0.9598 0.9600)">ħ</text>
    <text class="labi" font-size="32.0" transform="translate(-174.59 -0.20) scale(0.9623 0.9300)">ω</text>
    <text class="labi" font-size="22.5" transform="translate(-153.37 4.00) scale(0.9950 1.0000)">c</text>
    <text class="labi" font-size="32.0" transform="translate(-140.88 -0.60) scale(0.8850 0.9500)">κ</text>
    <text class="labi" font-size="22.5" transform="translate(-124.31 4.00) scale(1.0503 1.0000)">c</text>
  </g>
</svg>
</body>
</html>
